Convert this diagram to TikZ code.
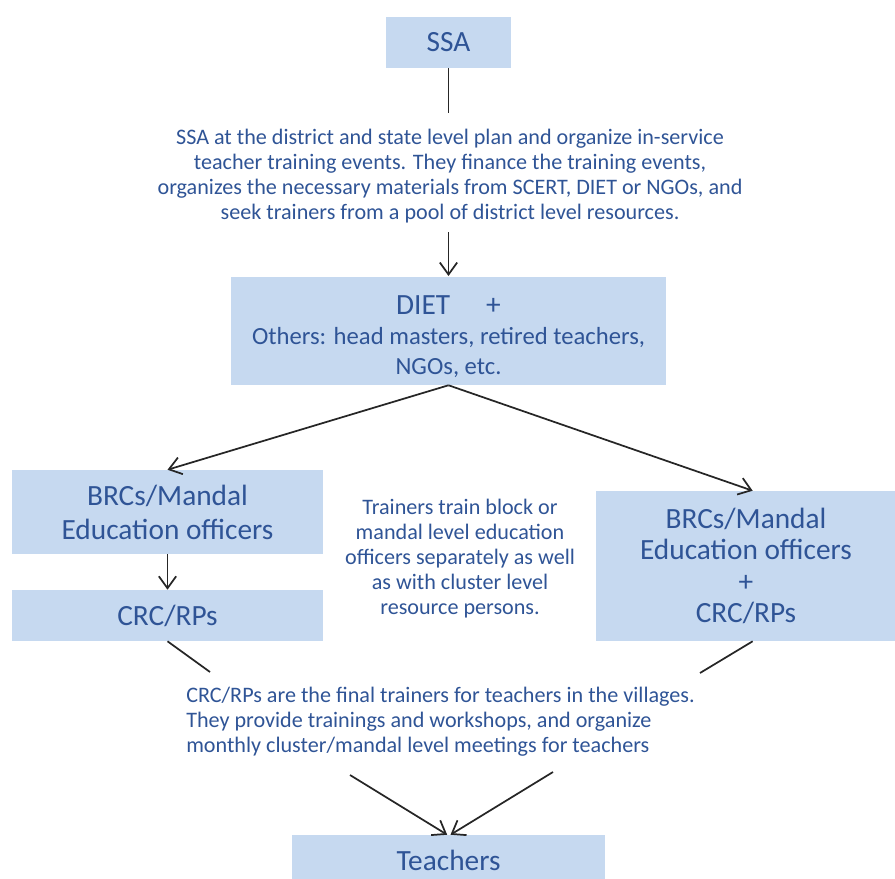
\documentclass[tikz,border=0pt]{standalone}
\usepackage{fontspec}
\setmainfont{Carlito}
\usepackage{tikz}
\usetikzlibrary{arrows.meta,positioning}
\usepackage{xcolor}
\definecolor{fblue}{HTML}{2F5496}
\definecolor{ffill}{HTML}{C6D9F0}
\definecolor{fline}{HTML}{262626}

\begin{document}
\begin{tikzpicture}[x=0.75pt, y=-0.75pt,
  box/.style={fill=ffill, text=fblue, align=center, inner sep=0pt},
  note/.style={text=fblue, align=center, inner sep=0pt, font=\fontsize{16.6}{18.75}\selectfont},
  link/.style={fline, line width=1.3pt},
  arr/.style={link, -{Straight Barb[length=9pt,width=13pt]}}]
\useasboundingbox (0,0) rectangle (895,878);
\clip (0,0) rectangle (895,878);
% top: SSA and what it does
\node[box, minimum width=93.75pt, minimum height=38.25pt, font=\fontsize{22}{25}\selectfont]
   (ssa) at (448.5,42.5) {SSA};
\node[note] (ssaTxt) at (450,176)
   {SSA at the district and state level plan and organize in-service\\
    teacher training events. They finance the training events,\\
    organizes the necessary materials from SCERT, DIET or NGOs, and\\
    seek trainers from a pool of district level resources.};
\draw[link] (ssa.south) -- (448.5,113);
\draw[arr] (448.5,232) -- (448.5,276);
% trainers
\node[box, minimum width=326.25pt, minimum height=81pt, font=\fontsize{18.5}{22.5}\selectfont]
   (diet) at (448.5,331) {{\fontsize{22}{24}\selectfont\rule{0pt}{22pt}DIET \quad +}\\Others: head masters, retired teachers,\\NGOs, etc.};
% block level, left branch
\node[box, minimum width=233.25pt, minimum height=63pt, font=\fontsize{22}{25.5}\selectfont]
   (brcL) at (167.5,512) {BRCs/Mandal\\Education officers};
\node[box, minimum width=233.25pt, minimum height=38.25pt, font=\fontsize{22}{25.5}\selectfont]
   (crcL) at (167.5,615.5) {CRC/RPs};
% block level, right branch
\node[box, minimum width=225pt, minimum height=112.5pt, font=\fontsize{22}{23.6}\selectfont]
   (brcR) at (746,566) {BRCs/Mandal\\Education officers\\+\\CRC/RPs};
\node[note] (midTxt) at (460,559)
   {Trainers train block or\\mandal level education\\officers separately as well\\as with cluster level\\resource persons.};
\draw[arr] (diet.south) -- (brcL.north);
\draw[arr] (diet.south) -- ([xshift=5pt]brcR.north);
\draw[arr] (brcL.south) -- (crcL.north);
% cluster level down to the teachers
\node[note, align=left, anchor=west] (crcTxt) at (186,722)
   {CRC/RPs are the final trainers for teachers in the villages.\\
    They provide trainings and workshops, and organize\\
    monthly cluster/mandal level meetings for teachers};
\coordinate (lEnd) at (210,672);
\coordinate (rEnd) at (700,673);
\coordinate (lStart) at (350,775);
\coordinate (rStart) at (553,772);
\draw[link] (crcL.south) -- (lEnd);
\draw[link] ([xshift=5pt]brcR.south) -- (rEnd);
\node[box, minimum width=234.75pt, minimum height=37.5pt, font=\fontsize{22}{25}\selectfont]
   (teach) at (448.5,860) {Teachers};
\draw[arr] (lStart) -- ([xshift=-1pt]teach.north);
\draw[arr] (rStart) -- ([xshift=1.5pt]teach.north);
\end{tikzpicture}
\end{document}
